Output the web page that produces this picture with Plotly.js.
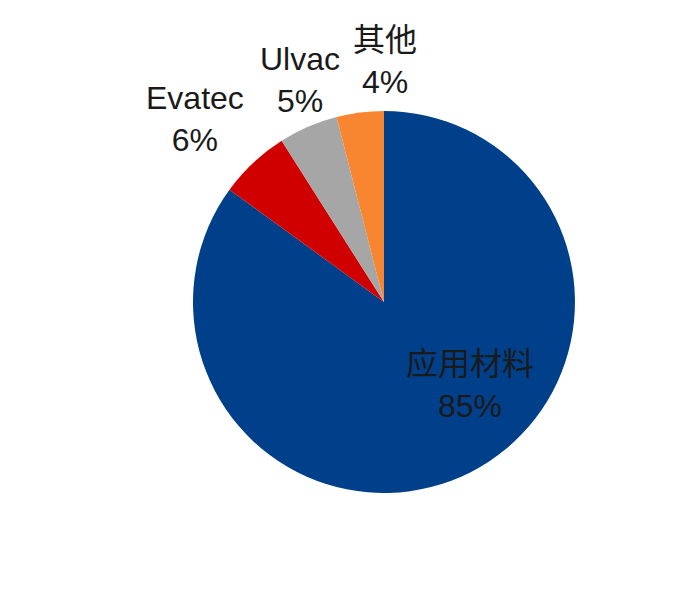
<!DOCTYPE html>
<html lang="zh">
  <head>
    <meta charset="UTF-8" />
    <title>市场份额</title>
    <script src="https://cdn.plot.ly/plotly-3.0.1.min.js"></script>
    <style>
      html,
      body {
        margin: 0;
        padding: 0;
        background: #ffffff;
      }
      #pieChart {
        width: 681px;
        height: 599px;
      }
    </style>
  </head>
  <body>
    <div id="pieChart"></div>

    <script>
      // share by vendor, clockwise from 12 o'clock
      const vendors = ["应用材料", "Evatec", "Ulvac", "其他"];
      const shares = [85, 6, 5, 4];
      const sliceColors = ["#00408A", "#D00000", "#A6A6A6", "#F88631"];

      const font = "Liberation Sans, Arial, Noto Sans CJK SC, sans-serif";

      // where each label block sits (paper coords), same order as vendors
      const labelPos = [
        [0.69, 0.357],
        [0.286, 0.801],
        [0.4405, 0.866],
        [0.565, 0.898],
      ];

      const total = shares.reduce((a, b) => a + b, 0);

      const pieData = [
        {
          type: "pie",
          labels: vendors,
          values: shares,
          sort: false,
          direction: "clockwise",
          rotation: 0,
          marker: { colors: sliceColors, line: { width: 0 } },
          textinfo: "none",
          hoverinfo: "skip",
          domain: { x: [0.2834, 0.8443], y: [0.177, 0.8147] },
        },
      ];

      const annotations = vendors.map((name, i) => ({
        xref: "paper",
        yref: "paper",
        x: labelPos[i][0],
        y: labelPos[i][1],
        xanchor: "center",
        yanchor: "middle",
        showarrow: false,
        align: "center",
        text: name + "<br>" + Math.round((shares[i] / total) * 100) + "%",
        font: { family: font, size: 32, color: "#1a1a1a" },
      }));

      const pieLayout = {
        width: 681,
        height: 599,
        margin: { l: 0, r: 0, t: 0, b: 0 },
        showlegend: false,
        paper_bgcolor: "#ffffff",
        annotations: annotations,
      };

      Plotly.newPlot("pieChart", pieData, pieLayout, { displayModeBar: false });
    </script>
  </body>
</html>
